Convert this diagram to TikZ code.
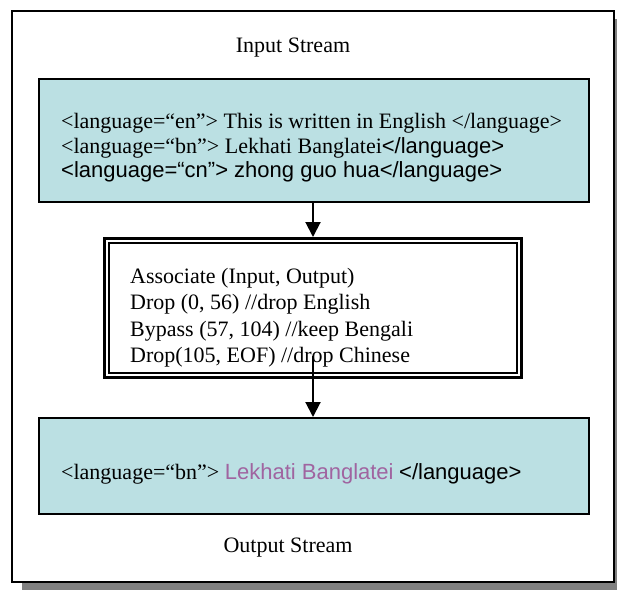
\documentclass[tikz,border=0pt]{standalone}
\usepackage{fontspec}
\setmainfont{Liberation Serif}
\setsansfont{Liberation Sans}
\usetikzlibrary{arrows.meta}
\definecolor{streamfill}{RGB}{187,224,227}
\definecolor{shadowgray}{RGB}{128,128,128}
\definecolor{tagpurple}{RGB}{160,100,160}
\begin{document}
\begin{tikzpicture}[x=1pt,y=-1pt,
  panel/.style={inner sep=0pt, minimum width=602pt, minimum height=571pt},
  streambox/.style={draw=black, line width=2pt, fill=streamfill, inner sep=0pt,
    minimum width=550pt},
  txt/.style={anchor=base west, inner sep=0pt, font=\fontsize{22}{26}\selectfont},
  caption/.style={anchor=base, inner sep=0pt, font=\fontsize{22}{26}\selectfont},
  flow/.style={line width=2pt, -{Triangle[width=15pt,length=15pt]}}]
\useasboundingbox (0,0) rectangle (617,590);
\clip (0,0) rectangle (617,590);

% outer panel with its drop shadow
\node[panel, fill=shadowgray] (shade) at (323,304.5) {};
\node[panel, draw=black, line width=1.8pt, fill=white] (frame) at (313,296.5) {};

% input stream
\node[caption] (intitle) at (293,52) {Input Stream};
\node[streambox, minimum height=123pt] (inbox) at (314,140.5) {};
\node[txt] (l1) at (61,128) {<language=“en”> This is written in English </language>};
\node[txt] (l2) at (61,153) {<language=“bn”> Lekhati Banglatei\textsf{</language>}};
\node[txt] (l3) at (61,177) {\sffamily <language=“cn”> zhong guo hua</language>};

% association rules (thick-thin double border)
\node[draw=black, line width=3pt, fill=white, inner sep=0pt,
  minimum width=417pt, minimum height=139pt] (assoc) at (313,308) {};
\draw[line width=1.5pt] ([shift={(6,6)}]assoc.north west)
  rectangle ([shift={(-6,-6)}]assoc.south east);
\node[txt] (m1) at (130,283) {Associate (Input, Output)};
\node[txt] (m2) at (130,309) {Drop (0, 56) //drop English};
\node[txt] (m3) at (130,336) {Bypass (57, 104) //keep Bengali};
\node[txt] (m4) at (130,362) {Drop(105, EOF) //drop Chinese};

% output stream
\node[streambox, minimum height=96pt] (outbox) at (314,466) {};
\node[txt] (o1) at (61,479) {<language=“bn”> \textcolor{tagpurple}{\sffamily Lekhati Banglatei} \textsf{</language>}};
\node[caption] (outtitle) at (288,552) {Output Stream};

% connectors
\draw[flow] (inbox.south -| assoc.north) -- (assoc.north);
\coordinate (tap) at (313,356);
\draw[flow] (tap) -- (outbox.north -| tap);
\end{tikzpicture}
\end{document}
